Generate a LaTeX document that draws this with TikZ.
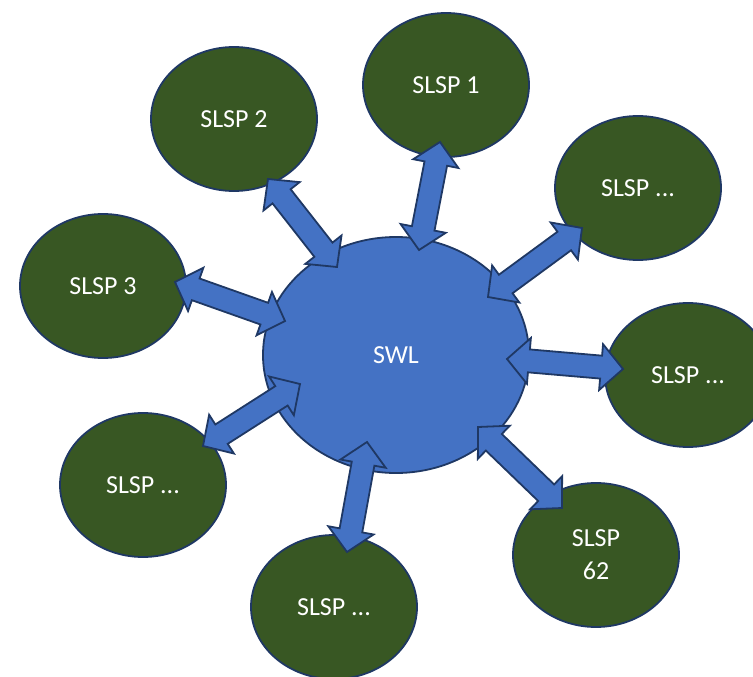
\documentclass[tikz,border=0pt]{standalone}
\usepackage{fontspec}
\setmainfont{Carlito}
\usetikzlibrary{shapes.geometric,calc}
\definecolor{leaf}{RGB}{56,87,35}
\definecolor{sky}{RGB}{68,114,196}
\definecolor{navy}{RGB}{31,56,100}
\tikzset{
  hub/.style={ellipse,draw=navy,fill=sky,line width=1.8pt,minimum width=266pt,minimum height=236pt,inner sep=0pt,text=white,font=\fontsize{26}{33}\selectfont},
  sat/.style={ellipse,draw=navy,fill=leaf,line width=1.8pt,minimum width=166pt,minimum height=144pt,inner sep=0pt,text=white,align=center,font=\fontsize{26}{33}\selectfont},
  arrowbody/.style={draw=navy,fill=sky,line width=1.8pt,line join=miter}
}
\newcommand{\blockarrow}[2]{%
\draw[arrowbody] (#1)
 -- ($(#1)!22pt!(#2)!23pt!90:(#2)$)
 -- ($(#1)!22pt!(#2)!11.5pt!90:(#2)$)
 -- ($(#2)!22pt!(#1)!11.5pt!-90:(#1)$)
 -- ($(#2)!22pt!(#1)!23pt!-90:(#1)$)
 -- (#2)
 -- ($(#2)!22pt!(#1)!23pt!90:(#1)$)
 -- ($(#2)!22pt!(#1)!11.5pt!90:(#1)$)
 -- ($(#1)!22pt!(#2)!11.5pt!-90:(#2)$)
 -- ($(#1)!22pt!(#2)!23pt!-90:(#2)$)
 -- cycle;}
\begin{document}
\begin{tikzpicture}[x=1pt,y=-1pt]
\useasboundingbox (0,0) rectangle (753,677);
\node[hub] (swl) at (396,355) {SWL};
\node[sat] (s1) at (446,85) {SLSP 1};
\node[sat] (s2) at (234,119) {SLSP 2};
\node[sat] (str) at (638,188) {SLSP ...};
\node[sat] (s3) at (103,286) {SLSP 3};
\node[sat] (sr) at (688,375) {SLSP ...};
\node[sat] (s62) at (596,555) {SLSP\\62};
\node[sat] (sb) at (334,607) {SLSP ...};
\node[sat] (slb) at (143,485) {SLSP ...};
% arrow tips
\coordinate (a1h) at (419,250); \coordinate (a1s) at (440,142);
\coordinate (a2h) at (337,267); \coordinate (a2s) at (268,179);
\coordinate (a3h) at (285,321); \coordinate (a3s) at (175,282);
\coordinate (a4h) at (488,297); \coordinate (a4s) at (582,228);
\coordinate (a5h) at (507,359); \coordinate (a5s) at (623,369);
\coordinate (a6h) at (478,427); \coordinate (a6s) at (562,508);
\coordinate (a7h) at (367,442); \coordinate (a7s) at (347,552);
\coordinate (a8h) at (300,384); \coordinate (a8s) at (203,446);
\blockarrow{a1h}{a1s}
\blockarrow{a2h}{a2s}
\blockarrow{a3h}{a3s}
\blockarrow{a4h}{a4s}
\blockarrow{a5h}{a5s}
\blockarrow{a6h}{a6s}
\blockarrow{a7h}{a7s}
\blockarrow{a8h}{a8s}
\end{tikzpicture}
\end{document}
